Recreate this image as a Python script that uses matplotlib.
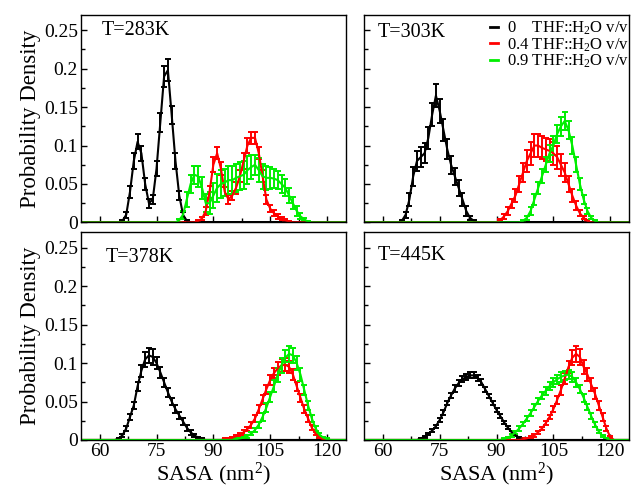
import numpy as np
import matplotlib
matplotlib.use("Agg")
import matplotlib.pyplot as plt
from matplotlib.lines import Line2D

plt.rcParams['font.family'] = ['Liberation Serif', 'DejaVu Serif']
plt.rcParams['mathtext.fontset'] = 'custom'
plt.rcParams['mathtext.rm'] = 'Liberation Serif'
plt.rcParams['mathtext.it'] = 'Liberation Serif:italic'

# SASA grid (nm^2) and per-series values: (first bin, densities, errors)
grid = np.arange(55, 126, 1.0)

temps = ["T=283K", "T=303K", "T=378K", "T=445K"]
labels = ["0    THF::H$_2$O v/v", "0.4 THF::H$_2$O v/v", "0.9 THF::H$_2$O v/v"]
colors = ["black", "red", "#00ee00"]

# T=283K
t283_w0_start = 66
t283_w0 = [0.002, 0.01, 0.04, 0.08, 0.105, 0.09, 0.05, 0.025, 0.03, 0.07,
           0.13, 0.19, 0.198, 0.14, 0.08, 0.035, 0.01, 0.002]
t283_w0_err = [0.001, 0.004, 0.008, 0.01, 0.01, 0.01, 0.008, 0.006, 0.006, 0.01,
               0.012, 0.014, 0.014, 0.012, 0.01, 0.006, 0.004, 0.001]
t283_w4_start = 86
t283_w4 = [0.002, 0.005, 0.015, 0.04, 0.075, 0.09, 0.07, 0.04, 0.03, 0.035,
           0.045, 0.06, 0.08, 0.1, 0.11, 0.11, 0.09, 0.06, 0.03, 0.018,
           0.012, 0.008, 0.005, 0.003, 0.001]
t283_w4_err = [0.001, 0.002, 0.005, 0.008, 0.01, 0.008, 0.008, 0.006, 0.006, 0.006,
               0.008, 0.008, 0.01, 0.01, 0.008, 0.008, 0.008, 0.008, 0.006, 0.005,
               0.004, 0.003, 0.002, 0.001, 0.001]
t283_w9_start = 81
t283_w9 = [0.003, 0.01, 0.03, 0.05, 0.062, 0.06, 0.045, 0.025, 0.025, 0.035,
           0.045, 0.05, 0.052, 0.055, 0.055, 0.058, 0.06, 0.062, 0.068, 0.072,
           0.075, 0.068, 0.06, 0.058, 0.058, 0.057, 0.055, 0.05, 0.045, 0.035,
           0.025, 0.015, 0.008, 0.004, 0.001]
t283_w9_err = [0.002, 0.005, 0.01, 0.012, 0.012, 0.014, 0.014, 0.012, 0.014, 0.016,
               0.018, 0.018, 0.018, 0.018, 0.018, 0.018, 0.018, 0.018, 0.018, 0.016,
               0.013, 0.016, 0.016, 0.016, 0.014, 0.012, 0.012, 0.012, 0.011, 0.01,
               0.008, 0.006, 0.004, 0.002, 0.001]

# T=303K
t303_w0_start = 65
t303_w0 = [0.002, 0.01, 0.03, 0.06, 0.08, 0.085, 0.09, 0.11, 0.14, 0.165,
           0.145, 0.12, 0.095, 0.075, 0.06, 0.045, 0.03, 0.015, 0.006, 0.002]
t303_w0_err = [0.001, 0.004, 0.008, 0.012, 0.013, 0.013, 0.013, 0.014, 0.015, 0.015,
               0.015, 0.014, 0.013, 0.012, 0.011, 0.01, 0.008, 0.006, 0.003, 0.001]
t303_w4_start = 91
t303_w4 = [0.003, 0.008, 0.015, 0.025, 0.035, 0.05, 0.065, 0.08, 0.09, 0.1,
           0.1, 0.097, 0.095, 0.093, 0.09, 0.085, 0.075, 0.065, 0.05, 0.035,
           0.022, 0.012, 0.006, 0.002]
t303_w4_err = [0.001, 0.003, 0.005, 0.006, 0.008, 0.01, 0.012, 0.014, 0.015, 0.015,
               0.015, 0.015, 0.015, 0.015, 0.015, 0.015, 0.014, 0.012, 0.01, 0.008,
               0.006, 0.004, 0.002, 0.001]
t303_w9_start = 97
t303_w9 = [0.002, 0.006, 0.015, 0.03, 0.045, 0.06, 0.075, 0.09, 0.1, 0.115,
           0.125, 0.132, 0.12, 0.1, 0.075, 0.05, 0.03, 0.015, 0.006, 0.002]
t303_w9_err = [0.001, 0.003, 0.005, 0.007, 0.008, 0.009, 0.01, 0.011, 0.012, 0.012,
               0.012, 0.012, 0.012, 0.011, 0.01, 0.008, 0.006, 0.004, 0.002, 0.001]

# T=378K
t378_w0_start = 65
t378_w0 = [0.002, 0.006, 0.015, 0.03, 0.045, 0.07, 0.09, 0.105, 0.11, 0.108,
           0.1, 0.088, 0.075, 0.062, 0.05, 0.04, 0.032, 0.024, 0.016, 0.01,
           0.006, 0.003, 0.001]
t378_w0_err = [0.001, 0.002, 0.003, 0.004, 0.005, 0.006, 0.008, 0.01, 0.01, 0.01,
               0.008, 0.007, 0.006, 0.006, 0.005, 0.005, 0.005, 0.004, 0.004, 0.003,
               0.002, 0.001, 0.001]
t378_w4_start = 93
t378_w4 = [0.001, 0.002, 0.003, 0.005, 0.007, 0.01, 0.014, 0.02, 0.028, 0.04,
           0.053, 0.066, 0.078, 0.087, 0.093, 0.097, 0.098, 0.095, 0.085, 0.07,
           0.055, 0.04, 0.028, 0.016, 0.008, 0.003, 0.001]
t378_w4_err = [0.001, 0.001, 0.001, 0.002, 0.002, 0.003, 0.003, 0.004, 0.004, 0.005,
               0.006, 0.006, 0.007, 0.007, 0.008, 0.008, 0.008, 0.008, 0.007, 0.006,
               0.005, 0.005, 0.004, 0.003, 0.002, 0.001, 0.001]
t378_w9_start = 96
t378_w9 = [0.001, 0.002, 0.003, 0.005, 0.008, 0.013, 0.02, 0.03, 0.042, 0.056,
           0.07, 0.085, 0.097, 0.107, 0.112, 0.11, 0.1, 0.085, 0.065, 0.045,
           0.028, 0.015, 0.007, 0.003, 0.001]
t378_w9_err = [0.001, 0.001, 0.001, 0.002, 0.002, 0.003, 0.004, 0.005, 0.006, 0.007,
               0.008, 0.009, 0.01, 0.01, 0.01, 0.01, 0.009, 0.008, 0.007, 0.006,
               0.005, 0.003, 0.002, 0.001, 0.001]

# T=445K
t445_w0_start = 70
t445_w0 = [0.002, 0.004, 0.008, 0.012, 0.018, 0.026, 0.036, 0.048, 0.058, 0.067,
           0.074, 0.079, 0.082, 0.084, 0.084, 0.081, 0.075, 0.066, 0.057, 0.048,
           0.039, 0.031, 0.023, 0.016, 0.01, 0.006, 0.003, 0.001]
t445_w0_err = [0.001, 0.001, 0.001, 0.002, 0.002, 0.002, 0.003, 0.003, 0.003, 0.004,
               0.004, 0.004, 0.004, 0.004, 0.004, 0.004, 0.004, 0.003, 0.003, 0.003,
               0.003, 0.003, 0.002, 0.002, 0.002, 0.001, 0.001, 0.001]
t445_w4_start = 97
t445_w4 = [0.001, 0.002, 0.004, 0.006, 0.01, 0.015, 0.022, 0.03, 0.04, 0.052,
           0.065, 0.08, 0.095, 0.107, 0.112, 0.108, 0.095, 0.085, 0.072, 0.06,
           0.045, 0.03, 0.015, 0.004]
t445_w4_err = [0.001, 0.001, 0.001, 0.002, 0.002, 0.002, 0.003, 0.003, 0.004, 0.005,
               0.006, 0.007, 0.008, 0.01, 0.01, 0.01, 0.009, 0.008, 0.008, 0.007,
               0.006, 0.005, 0.003, 0.001]
t445_w9_start = 92
t445_w9 = [0.001, 0.003, 0.006, 0.01, 0.015, 0.021, 0.028, 0.035, 0.043, 0.051,
           0.058, 0.064, 0.07, 0.075, 0.079, 0.082, 0.084, 0.085, 0.082, 0.075,
           0.066, 0.055, 0.043, 0.031, 0.02, 0.011, 0.005, 0.002]
t445_w9_err = [0.001, 0.001, 0.002, 0.002, 0.003, 0.003, 0.003, 0.004, 0.004, 0.004,
               0.005, 0.005, 0.005, 0.006, 0.006, 0.006, 0.006, 0.006, 0.006, 0.006,
               0.005, 0.005, 0.004, 0.004, 0.003, 0.002, 0.001, 0.001]

panels = [
    [(t283_w0_start, t283_w0, t283_w0_err), (t283_w4_start, t283_w4, t283_w4_err),
     (t283_w9_start, t283_w9, t283_w9_err)],
    [(t303_w0_start, t303_w0, t303_w0_err), (t303_w4_start, t303_w4, t303_w4_err),
     (t303_w9_start, t303_w9, t303_w9_err)],
    [(t378_w0_start, t378_w0, t378_w0_err), (t378_w4_start, t378_w4, t378_w4_err),
     (t378_w9_start, t378_w9, t378_w9_err)],
    [(t445_w0_start, t445_w0, t445_w0_err), (t445_w4_start, t445_w4, t445_w4_err),
     (t445_w9_start, t445_w9, t445_w9_err)],
]


def on_grid(start, vals):
    full = np.zeros(len(grid))
    i = int(np.searchsorted(grid, start))
    full[i:i + len(vals)] = vals
    return full


fig, axes = plt.subplots(2, 2, figsize=(6.31, 4.96), dpi=100, sharex=True, sharey=True)
fig.subplots_adjust(left=0.128, right=0.997, top=0.970, bottom=0.113,
                    wspace=0.068, hspace=0.048)

text_pos = [(0.078, 0.923), (0.05, 0.915), (0.094, 0.88), (0.05, 0.89)]

for k, ax in enumerate(axes.flat):
    for (start, vals, errs), c, lab in zip(panels[k], colors, labels):
        y = on_grid(start, vals)
        e = on_grid(start, errs)
        ax.errorbar(grid, y, yerr=e, color=c, lw=1.5, elinewidth=1.4,
                    capsize=2, capthick=1.4)
    ax.set_xlim(55, 125)
    ax.set_ylim(0, 0.27)
    ax.set_xticks([60, 75, 90, 105, 120])
    ax.set_xticks([67.5, 82.5, 97.5, 112.5], minor=True)
    ax.set_yticks([0, 0.05, 0.1, 0.15, 0.2, 0.25])
    ax.set_yticks([0.025, 0.075, 0.125, 0.175, 0.225], minor=True)
    ax.set_yticklabels(["0", "0.05", "0.1", "0.15", "0.2", "0.25"])
    ax.tick_params(which='both', direction='in', labelsize=14, pad=2)
    ax.tick_params(which='major', length=4, width=1)
    ax.tick_params(which='minor', length=3, width=1)
    for s in ax.spines.values():
        s.set_linewidth(1.0)
    tx, ty = text_pos[k]
    ax.text(tx, ty, temps[k], transform=ax.transAxes, fontsize=14.5, va='center')

for ax in axes[:, 1]:
    ax.tick_params(labelleft=False)
for ax in axes[:, 0]:
    ax.set_ylabel("Probability Density", fontsize=16.5, labelpad=2)
for ax in axes[1, :]:
    ax.set_xlabel("SASA (nm$^2$)", fontsize=16, labelpad=1)

handles = [Line2D([], [], color=c, lw=2) for c in colors]
axes[0, 1].legend(handles, labels, loc='upper right', frameon=False, fontsize=12,
                  handlelength=0.5, handletextpad=0.5, labelspacing=-0.05,
                  borderaxespad=0.0, borderpad=0.1, bbox_to_anchor=(1.005, 0.985))

fig.savefig("out.png", dpi=100)
